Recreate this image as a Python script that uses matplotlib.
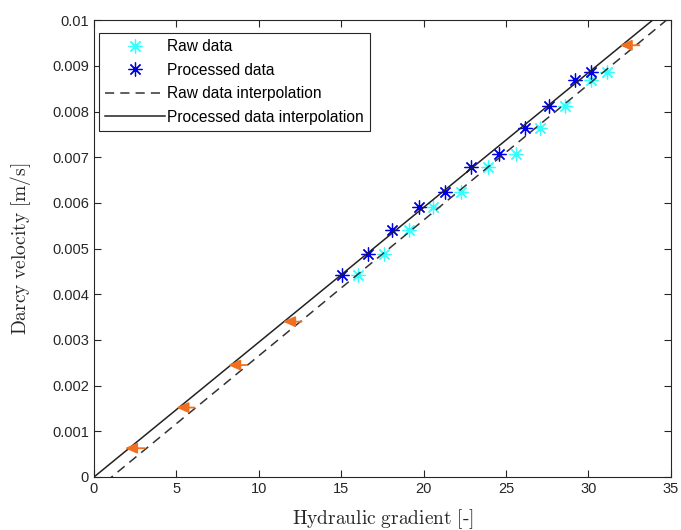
import numpy as np
import matplotlib
matplotlib.use("Agg")
import matplotlib.pyplot as plt

plt.rcParams['font.family'] = ['Liberation Sans', 'DejaVu Sans']
plt.rcParams['mathtext.fontset'] = 'cm'

# Raw / processed measurements
raw_x = [16.0, 17.6, 19.1, 20.6, 22.3, 23.9, 25.6, 27.07, 28.6, 30.16, 31.1]
proc_x = [15.07, 16.6, 18.1, 19.7, 21.3, 22.9, 24.56, 26.16, 27.6, 29.2, 30.16]
vel = [0.00442, 0.00489, 0.00540, 0.00590, 0.00624, 0.00678, 0.00708,
       0.00764, 0.00813, 0.00869, 0.00887]

# Interpolation lines: slope and x-intercept
raw_slope, raw_x0 = 2.97e-4, 1.07
proc_slope, proc_x0 = 2.95e-4, 0.0

# Orange arrows (tail x, tip x, y)
arr_tail = [3.09, 6.1, 9.25, 12.6, 33.1]
arr_tip = [1.88, 5.0, 8.14, 11.47, 31.9]
arr_y = [0.00063, 0.00152, 0.00245, 0.00340, 0.00945]

fig = plt.figure(figsize=(6.81, 5.30), dpi=100)
ax = fig.add_axes([0.138, 0.1, 0.847, 0.862])

ax.plot(raw_x, vel, ls='none', marker=(8, 2, 0), ms=10, mew=0.9,
        color='#33ffff', label='Raw data')
ax.plot(proc_x, vel, ls='none', marker=(8, 2, 0), ms=10, mew=0.9,
        color='#0000e6', label='Processed data')

xx = np.linspace(0, 35, 200)
ax.plot(xx, raw_slope * (xx - raw_x0), '--', color='#333333', lw=1.1,
        dashes=(6, 4), label='Raw data interpolation')
ax.plot(xx, proc_slope * (xx - proc_x0), '-', color='#222222', lw=1.1,
        label='Processed data interpolation')

for xt, xh, y in zip(arr_tail, arr_tip, arr_y):
    ax.annotate('', xy=(xh, y), xytext=(xt, y),
                arrowprops=dict(arrowstyle='-|>,head_length=0.45,head_width=0.2',
                                color='#f07020', lw=1.3,
                                mutation_scale=16, shrinkA=0, shrinkB=0))

ax.set_xlim(0, 35)
ax.set_ylim(0, 0.01)
ax.set_xticks(np.arange(0, 36, 5))
yt = np.linspace(0, 0.01, 11)
ax.set_yticks(yt)
ax.set_yticklabels(['0'] + ['%g' % v for v in yt[1:]])
ax.tick_params(direction='in', top=True, right=True, labelsize=10.5,
               colors='#262626', length=5)
for s in ax.spines.values():
    s.set_color('#262626')

ax.set_xlabel(r'$\mathrm{Hydraulic\ gradient\ [\text{-}]}$', fontsize=14,
              color='#262626', labelpad=8)
ax.set_ylabel(r'$\mathrm{Darcy\ velocity\ [m/s]}$', fontsize=14,
              color='#262626', labelpad=14)

leg = ax.legend(loc='upper left', fontsize=11.2, fancybox=False,
                edgecolor='#262626', framealpha=1, borderpad=0.4,
                labelspacing=0.55, handlelength=3.8, handletextpad=0.15,
                borderaxespad=0, bbox_to_anchor=(0.009, 0.972))
leg.get_frame().set_linewidth(0.8)

fig.savefig('out.png', dpi=100)
